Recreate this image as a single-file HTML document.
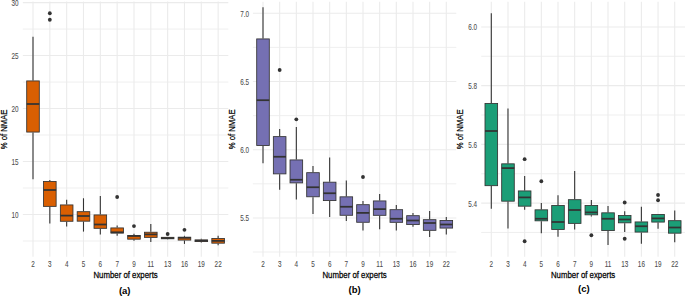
<!DOCTYPE html><html><head><meta charset="utf-8"><style>html,body{margin:0;padding:0;background:#fff;}svg{display:block;}text{font-family:"Liberation Sans",sans-serif;}</style></head><body>
<svg width="685" height="296" viewBox="0 0 685 296">
<rect width="685" height="296" fill="#fff"/>
<line x1="22.85" x2="228.3" y1="240.99" y2="240.99" stroke="#EBEBEB" stroke-width="0.8"/>
<line x1="22.85" x2="228.3" y1="188.01" y2="188.01" stroke="#EBEBEB" stroke-width="0.8"/>
<line x1="22.85" x2="228.3" y1="135.03" y2="135.03" stroke="#EBEBEB" stroke-width="0.8"/>
<line x1="22.85" x2="228.3" y1="82.05" y2="82.05" stroke="#EBEBEB" stroke-width="0.8"/>
<line x1="22.85" x2="228.3" y1="29.07" y2="29.07" stroke="#EBEBEB" stroke-width="0.8"/>
<line x1="22.85" x2="228.3" y1="214.5" y2="214.5" stroke="#EBEBEB" stroke-width="1.1"/>
<line x1="22.85" x2="228.3" y1="161.52" y2="161.52" stroke="#EBEBEB" stroke-width="1.1"/>
<line x1="22.85" x2="228.3" y1="108.54" y2="108.54" stroke="#EBEBEB" stroke-width="1.1"/>
<line x1="22.85" x2="228.3" y1="55.56" y2="55.56" stroke="#EBEBEB" stroke-width="1.1"/>
<line x1="22.85" x2="228.3" y1="2.58" y2="2.58" stroke="#EBEBEB" stroke-width="1.1"/>
<line x1="33" x2="33" y1="1.6" y2="256.8" stroke="#EBEBEB" stroke-width="1.1"/>
<line x1="49.83" x2="49.83" y1="1.6" y2="256.8" stroke="#EBEBEB" stroke-width="1.1"/>
<line x1="66.66" x2="66.66" y1="1.6" y2="256.8" stroke="#EBEBEB" stroke-width="1.1"/>
<line x1="83.49" x2="83.49" y1="1.6" y2="256.8" stroke="#EBEBEB" stroke-width="1.1"/>
<line x1="100.32" x2="100.32" y1="1.6" y2="256.8" stroke="#EBEBEB" stroke-width="1.1"/>
<line x1="117.15" x2="117.15" y1="1.6" y2="256.8" stroke="#EBEBEB" stroke-width="1.1"/>
<line x1="133.98" x2="133.98" y1="1.6" y2="256.8" stroke="#EBEBEB" stroke-width="1.1"/>
<line x1="150.81" x2="150.81" y1="1.6" y2="256.8" stroke="#EBEBEB" stroke-width="1.1"/>
<line x1="167.64" x2="167.64" y1="1.6" y2="256.8" stroke="#EBEBEB" stroke-width="1.1"/>
<line x1="184.47" x2="184.47" y1="1.6" y2="256.8" stroke="#EBEBEB" stroke-width="1.1"/>
<line x1="201.3" x2="201.3" y1="1.6" y2="256.8" stroke="#EBEBEB" stroke-width="1.1"/>
<line x1="218.13" x2="218.13" y1="1.6" y2="256.8" stroke="#EBEBEB" stroke-width="1.1"/>
<line x1="33" x2="33" y1="36.8" y2="80.5" stroke="#333333" stroke-width="1.1"/>
<line x1="33" x2="33" y1="132.5" y2="179.3" stroke="#333333" stroke-width="1.1"/>
<rect x="26.7" y="80.92" width="12.6" height="51.15" fill="#D95F02" stroke="#333333" stroke-width="0.85"/>
<line x1="26.7" x2="39.3" y1="104" y2="104" stroke="#333333" stroke-width="1.75"/>
<line x1="49.83" x2="49.83" y1="180.1" y2="181" stroke="#333333" stroke-width="1.1"/>
<line x1="49.83" x2="49.83" y1="206.8" y2="223.5" stroke="#333333" stroke-width="1.1"/>
<rect x="43.53" y="181.43" width="12.6" height="24.95" fill="#D95F02" stroke="#333333" stroke-width="0.85"/>
<line x1="43.53" x2="56.13" y1="190" y2="190" stroke="#333333" stroke-width="1.75"/>
<circle cx="49.83" cy="13.25" r="1.9" fill="#333333"/>
<circle cx="49.83" cy="19.75" r="1.9" fill="#333333"/>
<line x1="66.66" x2="66.66" y1="199.75" y2="204.5" stroke="#333333" stroke-width="1.1"/>
<line x1="66.66" x2="66.66" y1="221.7" y2="226.6" stroke="#333333" stroke-width="1.1"/>
<rect x="60.36" y="204.93" width="12.6" height="16.35" fill="#D95F02" stroke="#333333" stroke-width="0.85"/>
<line x1="60.36" x2="72.96" y1="215.6" y2="215.6" stroke="#333333" stroke-width="1.75"/>
<line x1="83.49" x2="83.49" y1="198.25" y2="211.25" stroke="#333333" stroke-width="1.1"/>
<line x1="83.49" x2="83.49" y1="221.6" y2="231.6" stroke="#333333" stroke-width="1.1"/>
<rect x="77.19" y="211.68" width="12.6" height="9.5" fill="#D95F02" stroke="#333333" stroke-width="0.85"/>
<line x1="77.19" x2="89.79" y1="216" y2="216" stroke="#333333" stroke-width="1.75"/>
<line x1="100.32" x2="100.32" y1="196" y2="214.5" stroke="#333333" stroke-width="1.1"/>
<line x1="100.32" x2="100.32" y1="228.75" y2="234.5" stroke="#333333" stroke-width="1.1"/>
<rect x="94.02" y="214.93" width="12.6" height="13.4" fill="#D95F02" stroke="#333333" stroke-width="0.85"/>
<line x1="94.02" x2="106.62" y1="224.5" y2="224.5" stroke="#333333" stroke-width="1.75"/>
<line x1="117.15" x2="117.15" y1="225.4" y2="227.5" stroke="#333333" stroke-width="1.1"/>
<line x1="117.15" x2="117.15" y1="233.5" y2="235.8" stroke="#333333" stroke-width="1.1"/>
<rect x="110.85" y="227.93" width="12.6" height="5.15" fill="#D95F02" stroke="#333333" stroke-width="0.85"/>
<line x1="110.85" x2="123.45" y1="232.3" y2="232.3" stroke="#333333" stroke-width="1.75"/>
<circle cx="117.15" cy="197" r="1.9" fill="#333333"/>
<line x1="133.98" x2="133.98" y1="233.7" y2="235" stroke="#333333" stroke-width="1.1"/>
<line x1="133.98" x2="133.98" y1="239.6" y2="240.7" stroke="#333333" stroke-width="1.1"/>
<rect x="127.68" y="235.43" width="12.6" height="3.75" fill="#D95F02" stroke="#333333" stroke-width="0.85"/>
<line x1="127.68" x2="140.28" y1="236" y2="236" stroke="#333333" stroke-width="1.75"/>
<circle cx="133.98" cy="226.1" r="1.9" fill="#333333"/>
<line x1="150.81" x2="150.81" y1="224" y2="231.8" stroke="#333333" stroke-width="1.1"/>
<line x1="150.81" x2="150.81" y1="237.8" y2="242" stroke="#333333" stroke-width="1.1"/>
<rect x="144.51" y="232.23" width="12.6" height="5.15" fill="#D95F02" stroke="#333333" stroke-width="0.85"/>
<line x1="144.51" x2="157.11" y1="234.4" y2="234.4" stroke="#333333" stroke-width="1.75"/>
<line x1="167.64" x2="167.64" y1="236.9" y2="236.9" stroke="#333333" stroke-width="1.1"/>
<line x1="167.64" x2="167.64" y1="239.2" y2="239.4" stroke="#333333" stroke-width="1.1"/>
<rect x="161.34" y="237.33" width="12.6" height="1.45" fill="#D95F02" stroke="#333333" stroke-width="0.85"/>
<line x1="161.34" x2="173.94" y1="238.1" y2="238.1" stroke="#333333" stroke-width="1.75"/>
<circle cx="167.64" cy="234" r="1.9" fill="#333333"/>
<line x1="184.47" x2="184.47" y1="235.8" y2="236.8" stroke="#333333" stroke-width="1.1"/>
<line x1="184.47" x2="184.47" y1="240.5" y2="243.9" stroke="#333333" stroke-width="1.1"/>
<rect x="178.17" y="237.23" width="12.6" height="2.85" fill="#D95F02" stroke="#333333" stroke-width="0.85"/>
<line x1="178.17" x2="190.77" y1="237.8" y2="237.8" stroke="#333333" stroke-width="1.75"/>
<circle cx="184.47" cy="229.8" r="1.9" fill="#333333"/>
<line x1="201.3" x2="201.3" y1="238.8" y2="239.5" stroke="#333333" stroke-width="1.1"/>
<line x1="201.3" x2="201.3" y1="242" y2="242.5" stroke="#333333" stroke-width="1.1"/>
<rect x="195" y="239.93" width="12.6" height="1.65" fill="#D95F02" stroke="#333333" stroke-width="0.85"/>
<line x1="195" x2="207.6" y1="240.7" y2="240.7" stroke="#333333" stroke-width="1.75"/>
<line x1="218.13" x2="218.13" y1="235.8" y2="238" stroke="#333333" stroke-width="1.1"/>
<line x1="218.13" x2="218.13" y1="243.6" y2="245.2" stroke="#333333" stroke-width="1.1"/>
<rect x="211.83" y="238.43" width="12.6" height="4.75" fill="#D95F02" stroke="#333333" stroke-width="0.85"/>
<line x1="211.83" x2="224.43" y1="240.9" y2="240.9" stroke="#333333" stroke-width="1.75"/>
<text transform="translate(18.5,218) scale(0.74,1)" text-anchor="end" font-size="8.6" fill="#4D4D4D" stroke="#4D4D4D" stroke-width="0.08">10</text>
<text transform="translate(18.5,165.02) scale(0.74,1)" text-anchor="end" font-size="8.6" fill="#4D4D4D" stroke="#4D4D4D" stroke-width="0.08">15</text>
<text transform="translate(18.5,112.04) scale(0.74,1)" text-anchor="end" font-size="8.6" fill="#4D4D4D" stroke="#4D4D4D" stroke-width="0.08">20</text>
<text transform="translate(18.5,59.06) scale(0.74,1)" text-anchor="end" font-size="8.6" fill="#4D4D4D" stroke="#4D4D4D" stroke-width="0.08">25</text>
<text transform="translate(18.5,6.08) scale(0.74,1)" text-anchor="end" font-size="8.6" fill="#4D4D4D" stroke="#4D4D4D" stroke-width="0.08">30</text>
<text transform="translate(33,266.9) scale(0.74,1)" text-anchor="middle" font-size="8.6" fill="#4D4D4D" stroke="#4D4D4D" stroke-width="0.08">2</text>
<text transform="translate(49.83,266.9) scale(0.74,1)" text-anchor="middle" font-size="8.6" fill="#4D4D4D" stroke="#4D4D4D" stroke-width="0.08">3</text>
<text transform="translate(66.66,266.9) scale(0.74,1)" text-anchor="middle" font-size="8.6" fill="#4D4D4D" stroke="#4D4D4D" stroke-width="0.08">4</text>
<text transform="translate(83.49,266.9) scale(0.74,1)" text-anchor="middle" font-size="8.6" fill="#4D4D4D" stroke="#4D4D4D" stroke-width="0.08">5</text>
<text transform="translate(100.32,266.9) scale(0.74,1)" text-anchor="middle" font-size="8.6" fill="#4D4D4D" stroke="#4D4D4D" stroke-width="0.08">6</text>
<text transform="translate(117.15,266.9) scale(0.74,1)" text-anchor="middle" font-size="8.6" fill="#4D4D4D" stroke="#4D4D4D" stroke-width="0.08">7</text>
<text transform="translate(133.98,266.9) scale(0.74,1)" text-anchor="middle" font-size="8.6" fill="#4D4D4D" stroke="#4D4D4D" stroke-width="0.08">9</text>
<text transform="translate(150.81,266.9) scale(0.74,1)" text-anchor="middle" font-size="8.6" fill="#4D4D4D" stroke="#4D4D4D" stroke-width="0.08">11</text>
<text transform="translate(167.64,266.9) scale(0.74,1)" text-anchor="middle" font-size="8.6" fill="#4D4D4D" stroke="#4D4D4D" stroke-width="0.08">13</text>
<text transform="translate(184.47,266.9) scale(0.74,1)" text-anchor="middle" font-size="8.6" fill="#4D4D4D" stroke="#4D4D4D" stroke-width="0.08">16</text>
<text transform="translate(201.3,266.9) scale(0.74,1)" text-anchor="middle" font-size="8.6" fill="#4D4D4D" stroke="#4D4D4D" stroke-width="0.08">19</text>
<text transform="translate(218.13,266.9) scale(0.74,1)" text-anchor="middle" font-size="8.6" fill="#4D4D4D" stroke="#4D4D4D" stroke-width="0.08">22</text>
<text transform="translate(125.58,278.0) scale(0.815,1)" text-anchor="middle" font-size="9.6" fill="#000" stroke="#000" stroke-width="0.25">Number of experts</text>
<text transform="translate(124.7,293.9) scale(1.0,1)" text-anchor="middle" font-size="9.5" font-weight="bold" fill="#000">(a)</text>
<text transform="translate(7.1,129.4) rotate(-90) scale(0.80,1)" text-anchor="middle" font-size="9.6" fill="#000" stroke="#000" stroke-width="0.25">% of NMAE</text>
<line x1="252.9" x2="456.3" y1="252.04" y2="252.04" stroke="#EBEBEB" stroke-width="0.8"/>
<line x1="252.9" x2="456.3" y1="183.83" y2="183.83" stroke="#EBEBEB" stroke-width="0.8"/>
<line x1="252.9" x2="456.3" y1="115.63" y2="115.63" stroke="#EBEBEB" stroke-width="0.8"/>
<line x1="252.9" x2="456.3" y1="47.42" y2="47.42" stroke="#EBEBEB" stroke-width="0.8"/>
<line x1="252.9" x2="456.3" y1="217.94" y2="217.94" stroke="#EBEBEB" stroke-width="1.1"/>
<line x1="252.9" x2="456.3" y1="149.73" y2="149.73" stroke="#EBEBEB" stroke-width="1.1"/>
<line x1="252.9" x2="456.3" y1="81.53" y2="81.53" stroke="#EBEBEB" stroke-width="1.1"/>
<line x1="252.9" x2="456.3" y1="13.32" y2="13.32" stroke="#EBEBEB" stroke-width="1.1"/>
<line x1="263" x2="263" y1="1.8" y2="256.8" stroke="#EBEBEB" stroke-width="1.1"/>
<line x1="279.66" x2="279.66" y1="1.8" y2="256.8" stroke="#EBEBEB" stroke-width="1.1"/>
<line x1="296.33" x2="296.33" y1="1.8" y2="256.8" stroke="#EBEBEB" stroke-width="1.1"/>
<line x1="312.99" x2="312.99" y1="1.8" y2="256.8" stroke="#EBEBEB" stroke-width="1.1"/>
<line x1="329.66" x2="329.66" y1="1.8" y2="256.8" stroke="#EBEBEB" stroke-width="1.1"/>
<line x1="346.32" x2="346.32" y1="1.8" y2="256.8" stroke="#EBEBEB" stroke-width="1.1"/>
<line x1="362.98" x2="362.98" y1="1.8" y2="256.8" stroke="#EBEBEB" stroke-width="1.1"/>
<line x1="379.65" x2="379.65" y1="1.8" y2="256.8" stroke="#EBEBEB" stroke-width="1.1"/>
<line x1="396.31" x2="396.31" y1="1.8" y2="256.8" stroke="#EBEBEB" stroke-width="1.1"/>
<line x1="412.98" x2="412.98" y1="1.8" y2="256.8" stroke="#EBEBEB" stroke-width="1.1"/>
<line x1="429.64" x2="429.64" y1="1.8" y2="256.8" stroke="#EBEBEB" stroke-width="1.1"/>
<line x1="446.3" x2="446.3" y1="1.8" y2="256.8" stroke="#EBEBEB" stroke-width="1.1"/>
<line x1="263" x2="263" y1="7.2" y2="38.5" stroke="#333333" stroke-width="1.1"/>
<line x1="263" x2="263" y1="145.9" y2="163.2" stroke="#333333" stroke-width="1.1"/>
<rect x="256.7" y="38.92" width="12.6" height="106.55" fill="#7570B3" stroke="#333333" stroke-width="0.85"/>
<line x1="256.7" x2="269.3" y1="100.2" y2="100.2" stroke="#333333" stroke-width="1.75"/>
<line x1="279.66" x2="279.66" y1="129" y2="136.2" stroke="#333333" stroke-width="1.1"/>
<line x1="279.66" x2="279.66" y1="174.3" y2="189.7" stroke="#333333" stroke-width="1.1"/>
<rect x="273.36" y="136.62" width="12.6" height="37.25" fill="#7570B3" stroke="#333333" stroke-width="0.85"/>
<line x1="273.36" x2="285.96" y1="156.75" y2="156.75" stroke="#333333" stroke-width="1.75"/>
<circle cx="279.66" cy="70" r="1.9" fill="#333333"/>
<line x1="296.33" x2="296.33" y1="127.1" y2="159.5" stroke="#333333" stroke-width="1.1"/>
<line x1="296.33" x2="296.33" y1="183.3" y2="199.5" stroke="#333333" stroke-width="1.1"/>
<rect x="290.03" y="159.93" width="12.6" height="22.95" fill="#7570B3" stroke="#333333" stroke-width="0.85"/>
<line x1="290.03" x2="302.63" y1="179.75" y2="179.75" stroke="#333333" stroke-width="1.75"/>
<circle cx="296.33" cy="119.3" r="1.9" fill="#333333"/>
<line x1="312.99" x2="312.99" y1="166" y2="172.25" stroke="#333333" stroke-width="1.1"/>
<line x1="312.99" x2="312.99" y1="197.2" y2="214" stroke="#333333" stroke-width="1.1"/>
<rect x="306.69" y="172.68" width="12.6" height="24.1" fill="#7570B3" stroke="#333333" stroke-width="0.85"/>
<line x1="306.69" x2="319.29" y1="187.25" y2="187.25" stroke="#333333" stroke-width="1.75"/>
<line x1="329.66" x2="329.66" y1="157.5" y2="181.75" stroke="#333333" stroke-width="1.1"/>
<line x1="329.66" x2="329.66" y1="201" y2="216.9" stroke="#333333" stroke-width="1.1"/>
<rect x="323.36" y="182.18" width="12.6" height="18.4" fill="#7570B3" stroke="#333333" stroke-width="0.85"/>
<line x1="323.36" x2="335.96" y1="193.25" y2="193.25" stroke="#333333" stroke-width="1.75"/>
<line x1="346.32" x2="346.32" y1="180.5" y2="196.4" stroke="#333333" stroke-width="1.1"/>
<line x1="346.32" x2="346.32" y1="215.7" y2="221" stroke="#333333" stroke-width="1.1"/>
<rect x="340.02" y="196.83" width="12.6" height="18.45" fill="#7570B3" stroke="#333333" stroke-width="0.85"/>
<line x1="340.02" x2="352.62" y1="206.75" y2="206.75" stroke="#333333" stroke-width="1.75"/>
<line x1="362.98" x2="362.98" y1="201.1" y2="204.25" stroke="#333333" stroke-width="1.1"/>
<line x1="362.98" x2="362.98" y1="222.7" y2="230.4" stroke="#333333" stroke-width="1.1"/>
<rect x="356.68" y="204.68" width="12.6" height="17.6" fill="#7570B3" stroke="#333333" stroke-width="0.85"/>
<line x1="356.68" x2="369.28" y1="212.9" y2="212.9" stroke="#333333" stroke-width="1.75"/>
<circle cx="362.98" cy="177" r="1.9" fill="#333333"/>
<line x1="379.65" x2="379.65" y1="194" y2="200.5" stroke="#333333" stroke-width="1.1"/>
<line x1="379.65" x2="379.65" y1="215.75" y2="229.25" stroke="#333333" stroke-width="1.1"/>
<rect x="373.35" y="200.93" width="12.6" height="14.4" fill="#7570B3" stroke="#333333" stroke-width="0.85"/>
<line x1="373.35" x2="385.95" y1="209.1" y2="209.1" stroke="#333333" stroke-width="1.75"/>
<line x1="396.31" x2="396.31" y1="205" y2="209.25" stroke="#333333" stroke-width="1.1"/>
<line x1="396.31" x2="396.31" y1="222.75" y2="230.5" stroke="#333333" stroke-width="1.1"/>
<rect x="390.01" y="209.68" width="12.6" height="12.65" fill="#7570B3" stroke="#333333" stroke-width="0.85"/>
<line x1="390.01" x2="402.61" y1="218.75" y2="218.75" stroke="#333333" stroke-width="1.75"/>
<line x1="412.98" x2="412.98" y1="213" y2="215.25" stroke="#333333" stroke-width="1.1"/>
<line x1="412.98" x2="412.98" y1="225" y2="226.75" stroke="#333333" stroke-width="1.1"/>
<rect x="406.68" y="215.68" width="12.6" height="8.9" fill="#7570B3" stroke="#333333" stroke-width="0.85"/>
<line x1="406.68" x2="419.28" y1="220.5" y2="220.5" stroke="#333333" stroke-width="1.75"/>
<line x1="429.64" x2="429.64" y1="211" y2="219.25" stroke="#333333" stroke-width="1.1"/>
<line x1="429.64" x2="429.64" y1="230.75" y2="237" stroke="#333333" stroke-width="1.1"/>
<rect x="423.34" y="219.68" width="12.6" height="10.65" fill="#7570B3" stroke="#333333" stroke-width="0.85"/>
<line x1="423.34" x2="435.94" y1="223" y2="223" stroke="#333333" stroke-width="1.75"/>
<line x1="446.3" x2="446.3" y1="217" y2="220" stroke="#333333" stroke-width="1.1"/>
<line x1="446.3" x2="446.3" y1="228.5" y2="234.5" stroke="#333333" stroke-width="1.1"/>
<rect x="440" y="220.43" width="12.6" height="7.65" fill="#7570B3" stroke="#333333" stroke-width="0.85"/>
<line x1="440" x2="452.6" y1="224.5" y2="224.5" stroke="#333333" stroke-width="1.75"/>
<text transform="translate(249,221.44) scale(0.74,1)" text-anchor="end" font-size="8.6" fill="#4D4D4D" stroke="#4D4D4D" stroke-width="0.08">5.5</text>
<text transform="translate(249,153.23) scale(0.74,1)" text-anchor="end" font-size="8.6" fill="#4D4D4D" stroke="#4D4D4D" stroke-width="0.08">6.0</text>
<text transform="translate(249,85.03) scale(0.74,1)" text-anchor="end" font-size="8.6" fill="#4D4D4D" stroke="#4D4D4D" stroke-width="0.08">6.5</text>
<text transform="translate(249,16.82) scale(0.74,1)" text-anchor="end" font-size="8.6" fill="#4D4D4D" stroke="#4D4D4D" stroke-width="0.08">7.0</text>
<text transform="translate(263,266.9) scale(0.74,1)" text-anchor="middle" font-size="8.6" fill="#4D4D4D" stroke="#4D4D4D" stroke-width="0.08">2</text>
<text transform="translate(279.66,266.9) scale(0.74,1)" text-anchor="middle" font-size="8.6" fill="#4D4D4D" stroke="#4D4D4D" stroke-width="0.08">3</text>
<text transform="translate(296.33,266.9) scale(0.74,1)" text-anchor="middle" font-size="8.6" fill="#4D4D4D" stroke="#4D4D4D" stroke-width="0.08">4</text>
<text transform="translate(312.99,266.9) scale(0.74,1)" text-anchor="middle" font-size="8.6" fill="#4D4D4D" stroke="#4D4D4D" stroke-width="0.08">5</text>
<text transform="translate(329.66,266.9) scale(0.74,1)" text-anchor="middle" font-size="8.6" fill="#4D4D4D" stroke="#4D4D4D" stroke-width="0.08">6</text>
<text transform="translate(346.32,266.9) scale(0.74,1)" text-anchor="middle" font-size="8.6" fill="#4D4D4D" stroke="#4D4D4D" stroke-width="0.08">7</text>
<text transform="translate(362.98,266.9) scale(0.74,1)" text-anchor="middle" font-size="8.6" fill="#4D4D4D" stroke="#4D4D4D" stroke-width="0.08">9</text>
<text transform="translate(379.65,266.9) scale(0.74,1)" text-anchor="middle" font-size="8.6" fill="#4D4D4D" stroke="#4D4D4D" stroke-width="0.08">11</text>
<text transform="translate(396.31,266.9) scale(0.74,1)" text-anchor="middle" font-size="8.6" fill="#4D4D4D" stroke="#4D4D4D" stroke-width="0.08">13</text>
<text transform="translate(412.98,266.9) scale(0.74,1)" text-anchor="middle" font-size="8.6" fill="#4D4D4D" stroke="#4D4D4D" stroke-width="0.08">16</text>
<text transform="translate(429.64,266.9) scale(0.74,1)" text-anchor="middle" font-size="8.6" fill="#4D4D4D" stroke="#4D4D4D" stroke-width="0.08">19</text>
<text transform="translate(446.3,266.9) scale(0.74,1)" text-anchor="middle" font-size="8.6" fill="#4D4D4D" stroke="#4D4D4D" stroke-width="0.08">22</text>
<text transform="translate(354.6,278.0) scale(0.815,1)" text-anchor="middle" font-size="9.6" fill="#000" stroke="#000" stroke-width="0.25">Number of experts</text>
<text transform="translate(354.6,292.8) scale(1.0,1)" text-anchor="middle" font-size="9.5" font-weight="bold" fill="#000">(b)</text>
<text transform="translate(235,129.3) rotate(-90) scale(0.80,1)" text-anchor="middle" font-size="9.6" fill="#000" stroke="#000" stroke-width="0.25">% of NMAE</text>
<line x1="481.2" x2="686" y1="232.47" y2="232.47" stroke="#EBEBEB" stroke-width="0.8"/>
<line x1="481.2" x2="686" y1="173.75" y2="173.75" stroke="#EBEBEB" stroke-width="0.8"/>
<line x1="481.2" x2="686" y1="115.03" y2="115.03" stroke="#EBEBEB" stroke-width="0.8"/>
<line x1="481.2" x2="686" y1="56.31" y2="56.31" stroke="#EBEBEB" stroke-width="0.8"/>
<line x1="481.2" x2="686" y1="203.11" y2="203.11" stroke="#EBEBEB" stroke-width="1.1"/>
<line x1="481.2" x2="686" y1="144.39" y2="144.39" stroke="#EBEBEB" stroke-width="1.1"/>
<line x1="481.2" x2="686" y1="85.67" y2="85.67" stroke="#EBEBEB" stroke-width="1.1"/>
<line x1="481.2" x2="686" y1="26.95" y2="26.95" stroke="#EBEBEB" stroke-width="1.1"/>
<line x1="491.3" x2="491.3" y1="1.8" y2="256.8" stroke="#EBEBEB" stroke-width="1.1"/>
<line x1="507.98" x2="507.98" y1="1.8" y2="256.8" stroke="#EBEBEB" stroke-width="1.1"/>
<line x1="524.65" x2="524.65" y1="1.8" y2="256.8" stroke="#EBEBEB" stroke-width="1.1"/>
<line x1="541.33" x2="541.33" y1="1.8" y2="256.8" stroke="#EBEBEB" stroke-width="1.1"/>
<line x1="558" x2="558" y1="1.8" y2="256.8" stroke="#EBEBEB" stroke-width="1.1"/>
<line x1="574.67" x2="574.67" y1="1.8" y2="256.8" stroke="#EBEBEB" stroke-width="1.1"/>
<line x1="591.35" x2="591.35" y1="1.8" y2="256.8" stroke="#EBEBEB" stroke-width="1.1"/>
<line x1="608.02" x2="608.02" y1="1.8" y2="256.8" stroke="#EBEBEB" stroke-width="1.1"/>
<line x1="624.7" x2="624.7" y1="1.8" y2="256.8" stroke="#EBEBEB" stroke-width="1.1"/>
<line x1="641.38" x2="641.38" y1="1.8" y2="256.8" stroke="#EBEBEB" stroke-width="1.1"/>
<line x1="658.05" x2="658.05" y1="1.8" y2="256.8" stroke="#EBEBEB" stroke-width="1.1"/>
<line x1="674.73" x2="674.73" y1="1.8" y2="256.8" stroke="#EBEBEB" stroke-width="1.1"/>
<line x1="491.3" x2="491.3" y1="13.25" y2="103" stroke="#333333" stroke-width="1.1"/>
<line x1="491.3" x2="491.3" y1="186.1" y2="208.8" stroke="#333333" stroke-width="1.1"/>
<rect x="485" y="103.42" width="12.6" height="82.25" fill="#1B9E77" stroke="#333333" stroke-width="0.85"/>
<line x1="485" x2="497.6" y1="131" y2="131" stroke="#333333" stroke-width="1.75"/>
<line x1="507.98" x2="507.98" y1="108.6" y2="163.4" stroke="#333333" stroke-width="1.1"/>
<line x1="507.98" x2="507.98" y1="201.6" y2="228.4" stroke="#333333" stroke-width="1.1"/>
<rect x="501.68" y="163.83" width="12.6" height="37.35" fill="#1B9E77" stroke="#333333" stroke-width="0.85"/>
<line x1="501.68" x2="514.27" y1="168.1" y2="168.1" stroke="#333333" stroke-width="1.75"/>
<line x1="524.65" x2="524.65" y1="176" y2="190.5" stroke="#333333" stroke-width="1.1"/>
<line x1="524.65" x2="524.65" y1="206.6" y2="209.8" stroke="#333333" stroke-width="1.1"/>
<rect x="518.35" y="190.93" width="12.6" height="15.25" fill="#1B9E77" stroke="#333333" stroke-width="0.85"/>
<line x1="518.35" x2="530.95" y1="197.4" y2="197.4" stroke="#333333" stroke-width="1.75"/>
<circle cx="524.65" cy="159.2" r="1.9" fill="#333333"/>
<circle cx="524.65" cy="241.25" r="1.9" fill="#333333"/>
<line x1="541.33" x2="541.33" y1="203" y2="209.4" stroke="#333333" stroke-width="1.1"/>
<line x1="541.33" x2="541.33" y1="221.25" y2="233.25" stroke="#333333" stroke-width="1.1"/>
<rect x="535.03" y="209.83" width="12.6" height="11" fill="#1B9E77" stroke="#333333" stroke-width="0.85"/>
<line x1="535.03" x2="547.62" y1="218.75" y2="218.75" stroke="#333333" stroke-width="1.75"/>
<circle cx="541.33" cy="181.25" r="1.9" fill="#333333"/>
<line x1="558" x2="558" y1="195.3" y2="205" stroke="#333333" stroke-width="1.1"/>
<line x1="558" x2="558" y1="229.9" y2="236.8" stroke="#333333" stroke-width="1.1"/>
<rect x="551.7" y="205.43" width="12.6" height="24.05" fill="#1B9E77" stroke="#333333" stroke-width="0.85"/>
<line x1="551.7" x2="564.3" y1="222" y2="222" stroke="#333333" stroke-width="1.75"/>
<line x1="574.67" x2="574.67" y1="171" y2="199.25" stroke="#333333" stroke-width="1.1"/>
<line x1="574.67" x2="574.67" y1="223.8" y2="229.5" stroke="#333333" stroke-width="1.1"/>
<rect x="568.38" y="199.68" width="12.6" height="23.7" fill="#1B9E77" stroke="#333333" stroke-width="0.85"/>
<line x1="568.38" x2="580.97" y1="210" y2="210" stroke="#333333" stroke-width="1.75"/>
<line x1="591.35" x2="591.35" y1="200" y2="205" stroke="#333333" stroke-width="1.1"/>
<line x1="591.35" x2="591.35" y1="215.25" y2="216.5" stroke="#333333" stroke-width="1.1"/>
<rect x="585.05" y="205.43" width="12.6" height="9.4" fill="#1B9E77" stroke="#333333" stroke-width="0.85"/>
<line x1="585.05" x2="597.65" y1="212.4" y2="212.4" stroke="#333333" stroke-width="1.75"/>
<circle cx="591.35" cy="235.25" r="1.9" fill="#333333"/>
<line x1="608.02" x2="608.02" y1="205.9" y2="212.4" stroke="#333333" stroke-width="1.1"/>
<line x1="608.02" x2="608.02" y1="231" y2="245" stroke="#333333" stroke-width="1.1"/>
<rect x="601.73" y="212.83" width="12.6" height="17.75" fill="#1B9E77" stroke="#333333" stroke-width="0.85"/>
<line x1="601.73" x2="614.32" y1="218.75" y2="218.75" stroke="#333333" stroke-width="1.75"/>
<line x1="624.7" x2="624.7" y1="211.25" y2="215.1" stroke="#333333" stroke-width="1.1"/>
<line x1="624.7" x2="624.7" y1="223.25" y2="232" stroke="#333333" stroke-width="1.1"/>
<rect x="618.4" y="215.53" width="12.6" height="7.3" fill="#1B9E77" stroke="#333333" stroke-width="0.85"/>
<line x1="618.4" x2="631" y1="219.5" y2="219.5" stroke="#333333" stroke-width="1.75"/>
<circle cx="624.7" cy="202.5" r="1.9" fill="#333333"/>
<circle cx="624.7" cy="238.75" r="1.9" fill="#333333"/>
<line x1="641.38" x2="641.38" y1="206.75" y2="221.5" stroke="#333333" stroke-width="1.1"/>
<line x1="641.38" x2="641.38" y1="232.5" y2="243.75" stroke="#333333" stroke-width="1.1"/>
<rect x="635.08" y="221.93" width="12.6" height="10.15" fill="#1B9E77" stroke="#333333" stroke-width="0.85"/>
<line x1="635.08" x2="647.67" y1="226.25" y2="226.25" stroke="#333333" stroke-width="1.75"/>
<line x1="658.05" x2="658.05" y1="214" y2="214" stroke="#333333" stroke-width="1.1"/>
<line x1="658.05" x2="658.05" y1="222.5" y2="228.75" stroke="#333333" stroke-width="1.1"/>
<rect x="651.75" y="214.43" width="12.6" height="7.65" fill="#1B9E77" stroke="#333333" stroke-width="0.85"/>
<line x1="651.75" x2="664.35" y1="218.4" y2="218.4" stroke="#333333" stroke-width="1.75"/>
<circle cx="658.05" cy="195" r="1.9" fill="#333333"/>
<circle cx="658.05" cy="200.25" r="1.9" fill="#333333"/>
<line x1="674.73" x2="674.73" y1="210.5" y2="220.25" stroke="#333333" stroke-width="1.1"/>
<line x1="674.73" x2="674.73" y1="233.6" y2="242.3" stroke="#333333" stroke-width="1.1"/>
<rect x="668.43" y="220.68" width="12.6" height="12.5" fill="#1B9E77" stroke="#333333" stroke-width="0.85"/>
<line x1="668.43" x2="681.02" y1="227.5" y2="227.5" stroke="#333333" stroke-width="1.75"/>
<text transform="translate(477,206.61) scale(0.74,1)" text-anchor="end" font-size="8.6" fill="#4D4D4D" stroke="#4D4D4D" stroke-width="0.08">5.4</text>
<text transform="translate(477,147.89) scale(0.74,1)" text-anchor="end" font-size="8.6" fill="#4D4D4D" stroke="#4D4D4D" stroke-width="0.08">5.6</text>
<text transform="translate(477,89.17) scale(0.74,1)" text-anchor="end" font-size="8.6" fill="#4D4D4D" stroke="#4D4D4D" stroke-width="0.08">5.8</text>
<text transform="translate(477,30.45) scale(0.74,1)" text-anchor="end" font-size="8.6" fill="#4D4D4D" stroke="#4D4D4D" stroke-width="0.08">6.0</text>
<text transform="translate(491.3,266.9) scale(0.74,1)" text-anchor="middle" font-size="8.6" fill="#4D4D4D" stroke="#4D4D4D" stroke-width="0.08">2</text>
<text transform="translate(507.98,266.9) scale(0.74,1)" text-anchor="middle" font-size="8.6" fill="#4D4D4D" stroke="#4D4D4D" stroke-width="0.08">3</text>
<text transform="translate(524.65,266.9) scale(0.74,1)" text-anchor="middle" font-size="8.6" fill="#4D4D4D" stroke="#4D4D4D" stroke-width="0.08">4</text>
<text transform="translate(541.33,266.9) scale(0.74,1)" text-anchor="middle" font-size="8.6" fill="#4D4D4D" stroke="#4D4D4D" stroke-width="0.08">5</text>
<text transform="translate(558,266.9) scale(0.74,1)" text-anchor="middle" font-size="8.6" fill="#4D4D4D" stroke="#4D4D4D" stroke-width="0.08">6</text>
<text transform="translate(574.67,266.9) scale(0.74,1)" text-anchor="middle" font-size="8.6" fill="#4D4D4D" stroke="#4D4D4D" stroke-width="0.08">7</text>
<text transform="translate(591.35,266.9) scale(0.74,1)" text-anchor="middle" font-size="8.6" fill="#4D4D4D" stroke="#4D4D4D" stroke-width="0.08">9</text>
<text transform="translate(608.02,266.9) scale(0.74,1)" text-anchor="middle" font-size="8.6" fill="#4D4D4D" stroke="#4D4D4D" stroke-width="0.08">11</text>
<text transform="translate(624.7,266.9) scale(0.74,1)" text-anchor="middle" font-size="8.6" fill="#4D4D4D" stroke="#4D4D4D" stroke-width="0.08">13</text>
<text transform="translate(641.38,266.9) scale(0.74,1)" text-anchor="middle" font-size="8.6" fill="#4D4D4D" stroke="#4D4D4D" stroke-width="0.08">16</text>
<text transform="translate(658.05,266.9) scale(0.74,1)" text-anchor="middle" font-size="8.6" fill="#4D4D4D" stroke="#4D4D4D" stroke-width="0.08">19</text>
<text transform="translate(674.73,266.9) scale(0.74,1)" text-anchor="middle" font-size="8.6" fill="#4D4D4D" stroke="#4D4D4D" stroke-width="0.08">22</text>
<text transform="translate(583.1,278.0) scale(0.815,1)" text-anchor="middle" font-size="9.6" fill="#000" stroke="#000" stroke-width="0.25">Number of experts</text>
<text transform="translate(583.8,292.1) scale(1.0,1)" text-anchor="middle" font-size="9.5" font-weight="bold" fill="#000">(c)</text>
<text transform="translate(463.2,129.3) rotate(-90) scale(0.80,1)" text-anchor="middle" font-size="9.6" fill="#000" stroke="#000" stroke-width="0.25">% of NMAE</text>
</svg></body></html>
